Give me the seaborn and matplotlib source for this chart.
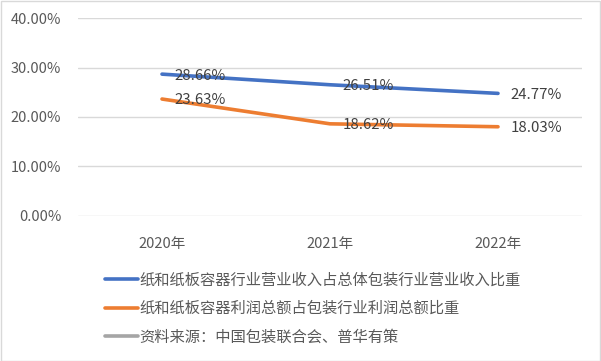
import pandas as pd
import matplotlib.pyplot as plt
import seaborn as sns
from matplotlib.lines import Line2D
from matplotlib.patches import Rectangle

years = ["2020年", "2021年", "2022年"]
revenue_share = [28.66, 26.51, 24.77]
profit_share = [23.63, 18.62, 18.03]
series_names = [
    "纸和纸板容器行业营业收入占总体包装行业营业收入比重",
    "纸和纸板容器利润总额占包装行业利润总额比重",
    "资料来源：中国包装联合会、普华有策",
]
colors = ["#4472C4", "#ED7D31", "#A5A5A5"]

sns.set_style("white")
plt.rcParams["font.family"] = ["Noto Sans CJK SC", "DejaVu Sans"]
text_color = "#595959"

data = pd.DataFrame({
    "year": years * 2,
    "value": [v / 100 for v in revenue_share + profit_share],
    "series": [series_names[0]] * 3 + [series_names[1]] * 3,
})

fig = plt.figure(figsize=(6.01, 3.61), dpi=100)
ax = fig.add_axes([78 / 601, 1 - 216 / 361, 504 / 601, 198 / 361])

sns.lineplot(data=data, x="year", y="value", hue="series",
             palette=colors[:2], linewidth=2.6, legend=False, ax=ax,
             solid_capstyle="round")

# data labels to the right of each point
for vals in [revenue_share, profit_share]:
    for i, v in enumerate(vals):
        ax.annotate(f"{v:.2f}%", (i, v / 100), xytext=(9, -1),
                    textcoords="offset points", ha="left", va="center",
                    fontsize=10.8, color="#404040")

ax.set_xlim(-0.5, 2.5)
ax.set_ylim(0, 0.4)
ax.set_yticks([0, 0.1, 0.2, 0.3, 0.4])
ax.set_yticklabels([f"{t * 100:.2f}%" for t in [0, 0.1, 0.2, 0.3, 0.4]])
ax.set_xlabel("")
ax.set_ylabel("")
ax.grid(axis="y", color="#D9D9D9", linewidth=1)
ax.set_axisbelow(True)
for s in ax.spines.values():
    s.set_visible(False)
ax.tick_params(axis="y", length=0, pad=12, labelsize=10.5, labelcolor=text_color)
ax.tick_params(axis="x", length=0, pad=15, labelsize=10.5, labelcolor=text_color)

handles = [Line2D([], [], color=c, linewidth=2.6) for c in colors]
fig.legend(handles, series_names, loc="upper left",
           bbox_to_anchor=(91 / 601, 1 - 258 / 361), frameon=False,
           fontsize=11, labelcolor=text_color, handlelength=2.15,
           handletextpad=0.1, labelspacing=0.75)

fig.patches.append(Rectangle((0.001, 0.001), 0.997, 0.996, transform=fig.transFigure,
                             fill=False, edgecolor="#D9D9D9", linewidth=1))

fig.savefig("out.png", dpi=100)
